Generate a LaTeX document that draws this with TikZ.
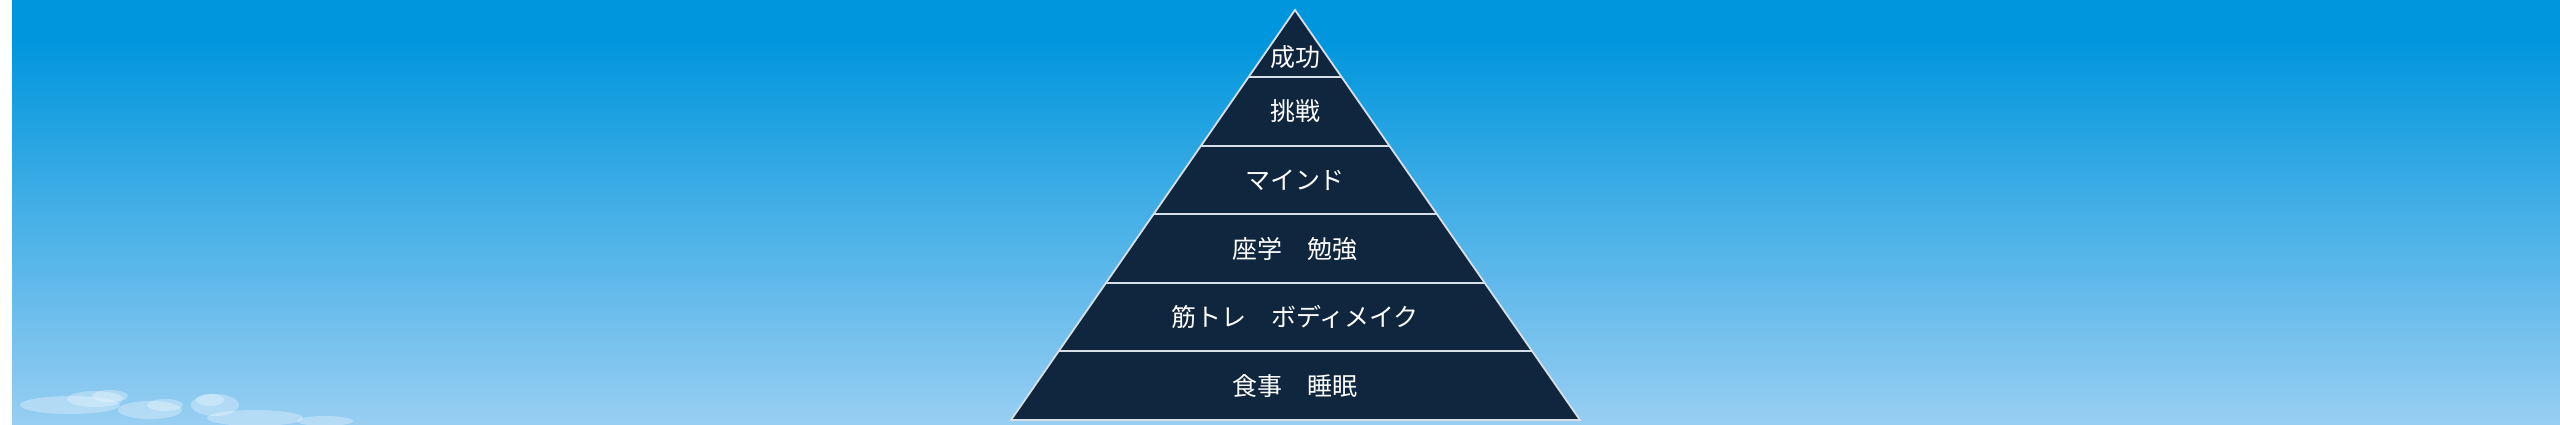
\documentclass[tikz,border=0pt]{standalone}
\usepackage{fontspec}
\newfontfamily\jp{Noto Sans CJK JP}
\usetikzlibrary{calc,positioning}
\definecolor{skytop}{HTML}{0096DD}
\definecolor{skymid}{HTML}{55B0EA}
\definecolor{skybot}{HTML}{98CEF2}
\definecolor{navy}{HTML}{10263F}
\definecolor{rim}{HTML}{D6DEE6}

\begin{document}
\begin{tikzpicture}[x=0.01cm,y=-0.01cm,inner sep=0.4mm]
\tikzset{label/.style={text=white,font=\jp\fontsize{7.1pt}{7.5pt}\selectfont},
         cloud/.style={fill=white,opacity=0.3}}
\useasboundingbox (0,0) rectangle (2560,424);
% sky
\fill[white] (0,0) rectangle (2560,424);
\fill[skytop] (12,0) rectangle (2560,41);
\shade[top color=skytop,middle color=skymid,bottom color=skybot] (12,40) rectangle (2560,424);
% clouds
\fill[cloud] (70,405) ellipse (50 and 9);
\fill[cloud] (95,399) ellipse (28 and 8);
\fill[cloud] (110,396) ellipse (18 and 6);
\fill[cloud] (150,410) ellipse (32 and 9);
\fill[cloud] (165,405) ellipse (18 and 6);
\fill[cloud] (215,405) ellipse (24 and 11);
\fill[cloud] (210,400) ellipse (14 and 6);
\fill[cloud] (255,418) ellipse (48 and 8);
\fill[cloud] (325,421) ellipse (28 and 5);
% pyramid
\coordinate (top) at (1295,10);
\coordinate (bl) at (1011,420);
\coordinate (br) at (1580,420);
\coordinate (l1) at ($(top)!0.1634!(bl)$);
\coordinate (r1) at ($(top)!0.1634!(br)$);
\coordinate (l2) at ($(top)!0.3317!(bl)$);
\coordinate (r2) at ($(top)!0.3317!(br)$);
\coordinate (l3) at ($(top)!0.4976!(bl)$);
\coordinate (r3) at ($(top)!0.4976!(br)$);
\coordinate (l4) at ($(top)!0.6659!(bl)$);
\coordinate (r4) at ($(top)!0.6659!(br)$);
\coordinate (l5) at ($(top)!0.8317!(bl)$);
\coordinate (r5) at ($(top)!0.8317!(br)$);
\fill[navy] (top) -- (bl) -- (br) -- cycle;
\draw[rim,line width=0.25mm] (l1) -- (r1);
\draw[rim,line width=0.25mm] (l2) -- (r2);
\draw[rim,line width=0.25mm] (l3) -- (r3);
\draw[rim,line width=0.25mm] (l4) -- (r4);
\draw[rim,line width=0.25mm] (l5) -- (r5);
\draw[rim,line width=0.18mm,line join=miter] (top) -- (bl) -- (br) -- cycle;
% labels
\node[label] (success) at (1295,57) {成功};
\node[label] (challenge) at (1295,111) {挑戦};
\node[label] (mind) at (1295,180) {マインド};
\node[label] (study) at (1295,249) {座学　勉強};
\node[label] (training) at (1295,317) {筋トレ　ボディメイク};
\node[label] (basics) at (1295,386) {食事　睡眠};
\end{tikzpicture}
\end{document}
